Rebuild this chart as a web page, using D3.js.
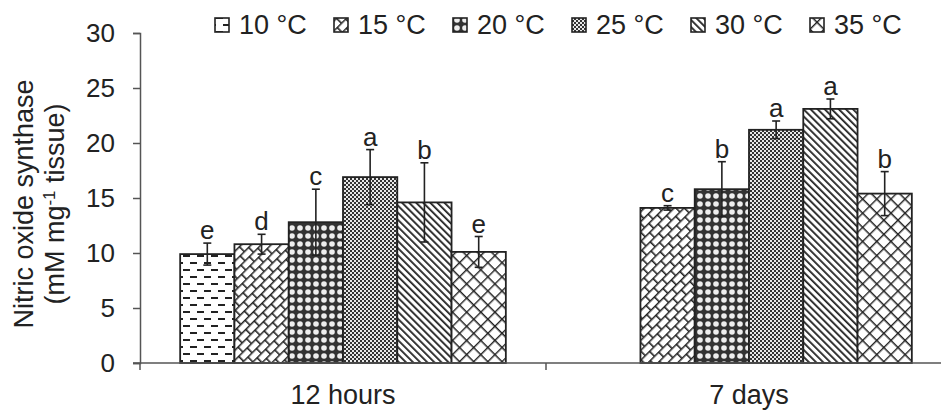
<!DOCTYPE html>
<html lang="en">
<head>
    <meta charset="UTF-8">
    <title>Nitric oxide synthase</title>
    <script src="https://cdnjs.cloudflare.com/ajax/libs/d3/7.8.5/d3.min.js"></script>
    <style>
        body {
            margin: 0;
            background: #ffffff;
            font-family: "Liberation Sans", Arial, sans-serif;
        }
        svg text {
            fill: #222;
        }
    </style>
</head>
<body>
    <div id="chart"></div>

    <script>
        // Data
        const groups = ["12 hours", "7 days"];
        const temps = ["10 °C", "15 °C", "20 °C", "25 °C", "30 °C", "35 °C"];
        const means12h = [9.9, 10.8, 12.8, 16.9, 14.6, 10.1];
        const errs12h = [1.0, 0.9, 3.0, 2.5, 3.6, 1.4];
        const letters12h = ["e", "d", "c", "a", "b", "e"];
        const means7d = [null, 14.1, 15.8, 21.2, 23.1, 15.4];
        const errs7d = [null, 0.2, 2.5, 0.8, 0.9, 2.0];
        const letters7d = [null, "c", "b", "a", "a", "b"];
        const yTicks = [0, 5, 10, 15, 20, 25, 30];

        const width = 941;
        const height = 411;

        const svg = d3.select("#chart")
            .append("svg")
            .attr("width", width)
            .attr("height", height);

        // Patterns, one per temperature
        const defs = svg.append("defs");
        const ink = "#222";

        function pattern(id, w, h, transform) {
            const p = defs.append("pattern")
                .attr("id", id)
                .attr("patternUnits", "userSpaceOnUse")
                .attr("width", w)
                .attr("height", h);
            if (transform) p.attr("patternTransform", transform);
            return p;
        }

        // 10 °C: staggered dashes
        let p = pattern("p0", 14, 14);
        p.append("rect").attr("width", 14).attr("height", 14).attr("fill", "#fff");
        p.append("rect").attr("x", 1).attr("y", 3).attr("width", 7).attr("height", 2).attr("fill", ink);
        p.append("rect").attr("x", 8).attr("y", 10).attr("width", 7).attr("height", 2).attr("fill", ink);
        p.append("rect").attr("x", -6).attr("y", 10).attr("width", 7).attr("height", 2).attr("fill", ink);

        // 15 °C: diagonal bricks
        p = pattern("p1", 12, 14, "rotate(-45)");
        p.append("rect").attr("width", 12).attr("height", 14).attr("fill", "#fff");
        p.append("path")
            .attr("d", "M0,0.8H12M0,7.8H12M0.8,0.8V7.8M6.8,7.8V14")
            .attr("stroke", ink).attr("stroke-width", 1.6).attr("fill", "none");

        // 20 °C: white circles on dark ground
        p = pattern("p2", 8, 8);
        p.append("rect").attr("width", 8).attr("height", 8).attr("fill", "#333");
        p.append("circle").attr("cx", 4).attr("cy", 4).attr("r", 2.8).attr("fill", "#eee");

        // 25 °C: fine dots
        p = pattern("p3", 4, 4);
        p.append("rect").attr("width", 4).attr("height", 4).attr("fill", "#e8e8e8");
        p.append("rect").attr("width", 2).attr("height", 2).attr("fill", "#333");
        p.append("rect").attr("x", 2).attr("y", 2).attr("width", 2).attr("height", 2).attr("fill", "#333");

        // 30 °C: dense back diagonals
        p = pattern("p4", 5, 5, "rotate(-45)");
        p.append("rect").attr("width", 5).attr("height", 5).attr("fill", "#fff");
        p.append("rect").attr("width", 1.8).attr("height", 5).attr("fill", ink);

        // 35 °C: diamond cross hatch
        p = pattern("p5", 10, 10, "rotate(45)");
        p.append("rect").attr("width", 10).attr("height", 10).attr("fill", "#fff");
        p.append("path")
            .attr("d", "M0,0.7H10M0.7,0V10")
            .attr("stroke", ink).attr("stroke-width", 1.4).attr("fill", "none");

        const fillFor = i => `url(#p${i})`;

        // Scales
        const x0 = d3.scaleBand()
            .domain(groups)
            .range([140, 952]);

        const x1 = d3.scaleBand()
            .domain(temps)
            .range([0, x0.bandwidth()])
            .paddingInner(0)
            .paddingOuter(0.74);

        const y = d3.scaleLinear()
            .domain([0, 30])
            .range([363, 33]);

        // Bars
        const rows = [];
        groups.forEach((g, gi) => {
            const means = gi === 0 ? means12h : means7d;
            const errs = gi === 0 ? errs12h : errs7d;
            const letters = gi === 0 ? letters12h : letters7d;
            temps.forEach((t, ti) => {
                if (means[ti] == null) return;
                rows.push({ group: g, temp: t, ti: ti, value: means[ti], err: errs[ti], letter: letters[ti] });
            });
        });

        const bars = svg.append("g");
        bars.selectAll("rect")
            .data(rows)
            .join("rect")
            .attr("x", d => x0(d.group) + x1(d.temp))
            .attr("y", d => y(d.value))
            .attr("width", x1.bandwidth())
            .attr("height", d => y(0) - y(d.value))
            .attr("fill", d => fillFor(d.ti))
            .attr("stroke", ink)
            .attr("stroke-width", 1.8);

        // Error bars
        const errG = svg.append("g")
            .attr("stroke", ink)
            .attr("stroke-width", 1.6);

        rows.forEach(d => {
            const cx = x0(d.group) + x1(d.temp) + x1.bandwidth() / 2;
            errG.append("line")
                .attr("x1", cx).attr("x2", cx)
                .attr("y1", y(d.value + d.err)).attr("y2", y(d.value - d.err));
            [d.value + d.err, d.value - d.err].forEach(v => {
                errG.append("line")
                    .attr("x1", cx - 4).attr("x2", cx + 4)
                    .attr("y1", y(v)).attr("y2", y(v));
            });
        });

        // Significance letters
        svg.append("g")
            .selectAll("text")
            .data(rows)
            .join("text")
            .attr("x", d => x0(d.group) + x1(d.temp) + x1.bandwidth() / 2)
            .attr("y", d => y(d.value + d.err) - 4)
            .attr("text-anchor", "middle")
            .style("font-size", "26px")
            .text(d => d.letter);

        // Y axis
        const yAxis = svg.append("g")
            .attr("transform", "translate(140,0)")
            .call(d3.axisLeft(y).tickValues(yTicks).tickSize(7).tickPadding(18));
        yAxis.select(".domain").attr("stroke", "#555").attr("stroke-width", 1.5);
        yAxis.selectAll(".tick line").attr("stroke", "#555").attr("stroke-width", 1.5);
        yAxis.selectAll(".tick text")
            .style("font-size", "26px")
            .style("font-family", "'Liberation Sans', Arial, sans-serif")
            .attr("fill", "#222");

        // X axis
        const xAxis = svg.append("g")
            .attr("transform", `translate(0,${y(0)})`)
            .call(d3.axisBottom(x0).tickSize(0).tickPadding(21));
        xAxis.select(".domain").remove();
        xAxis.append("line")
            .attr("x1", 133).attr("x2", width)
            .attr("stroke", "#555").attr("stroke-width", 1.5);
        xAxis.selectAll(".boundary")
            .data(groups.map(g => x0(g)))
            .join("line")
            .attr("x1", d => d).attr("x2", d => d)
            .attr("y1", 0).attr("y2", 7)
            .attr("stroke", "#555").attr("stroke-width", 1.5);
        xAxis.selectAll(".tick text")
            .style("font-size", "27px")
            .style("font-family", "'Liberation Sans', Arial, sans-serif")
            .attr("fill", "#222")
            .attr("dy", "0.75em");

        // Y axis title
        const yTitle = svg.append("text")
            .attr("transform", "translate(33,204) rotate(-90)")
            .attr("text-anchor", "middle")
            .style("font-size", "27px");
        yTitle.append("tspan").attr("x", 0).attr("dy", 0).text("Nitric oxide synthase");
        const line2 = yTitle.append("tspan").attr("x", 0).attr("dy", 31);
        line2.append("tspan").text("(mM mg");
        line2.append("tspan").attr("dy", -9).style("font-size", "17px").text("-1");
        line2.append("tspan").attr("dy", 9).text(" tissue)");

        // Legend
        const legend = svg.append("g")
            .attr("transform", "translate(215,0)");
        const item = legend.selectAll("g")
            .data(temps)
            .join("g")
            .attr("transform", (d, i) => `translate(${i * 119},0)`);
        item.append("rect")
            .attr("x", 0).attr("y", 18)
            .attr("width", 14).attr("height", 14)
            .attr("fill", (d, i) => fillFor(i))
            .attr("stroke", ink)
            .attr("stroke-width", 1.6);
        item.append("text")
            .attr("x", 24)
            .attr("y", 34)
            .style("font-size", "27px")
            .text(d => d);
    </script>
</body>
</html>
